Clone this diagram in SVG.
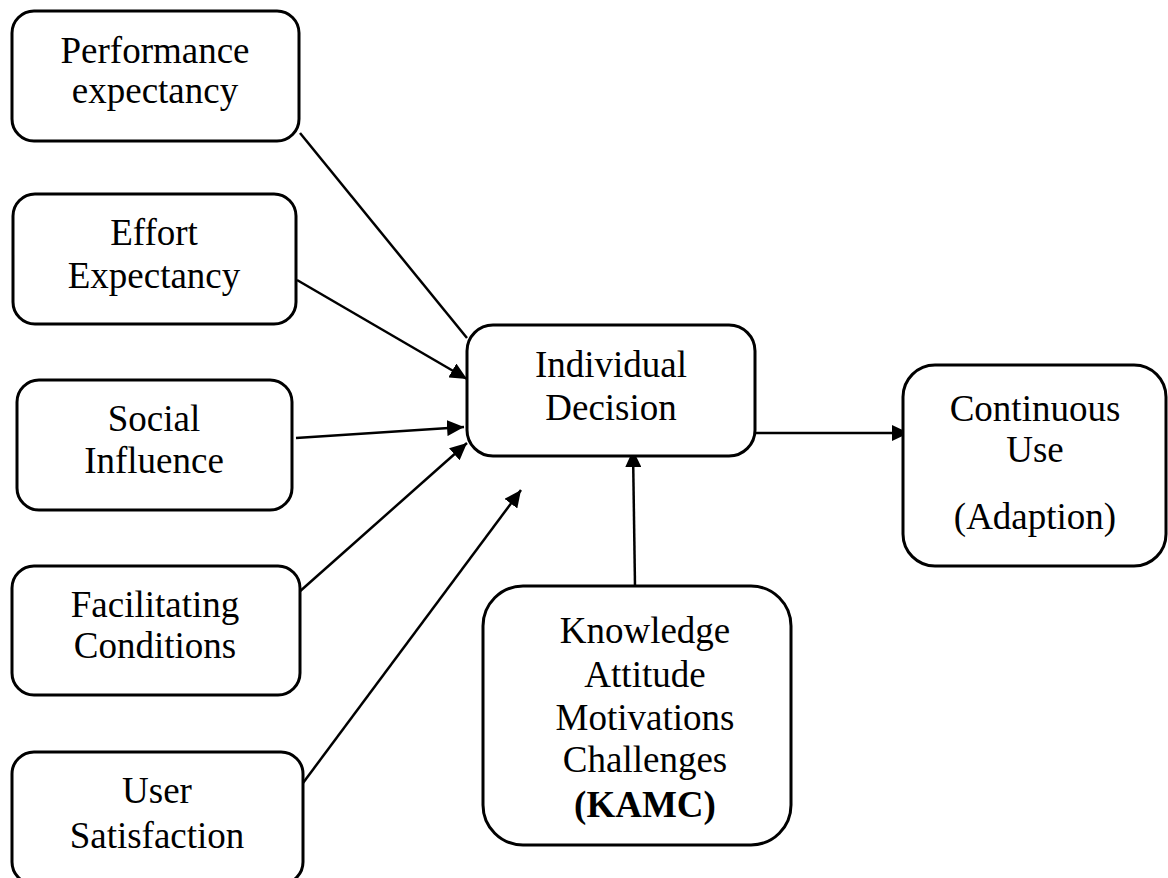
<svg xmlns="http://www.w3.org/2000/svg" width="1168" height="878" viewBox="0 0 1168 878">
  <style>
    .box { fill: #ffffff; stroke: #000000; stroke-width: 3; }
    .lbl { font-family: "Liberation Serif", "Times New Roman", serif; font-size: 37px; fill: #000000; text-anchor: middle; }
    .edge { stroke: #000000; stroke-width: 2.5; fill: none; }
    .arrow { marker-end: url(#head); }
  </style>
  <defs>
    <marker id="head" markerUnits="userSpaceOnUse" markerWidth="18" markerHeight="16" refX="17" refY="8" orient="auto">
      <path d="M0,0 L17,8 L0,16 z" fill="#000000"/>
    </marker>
  </defs>
  <rect width="1168" height="878" fill="#ffffff"/>

  <g id="connectors">
    <line class="edge" x1="300" y1="133" x2="467" y2="338"/>
    <line class="edge arrow" x1="297" y1="280" x2="467" y2="379"/>
    <line class="edge arrow" x1="296" y1="438" x2="464" y2="427"/>
    <line class="edge arrow" x1="298" y1="593" x2="467" y2="443"/>
    <line class="edge arrow" x1="303" y1="783" x2="521" y2="490"/>
    <line class="edge arrow" x1="635" y1="586" x2="633" y2="450"/>
    <line class="edge arrow" x1="755" y1="433" x2="909" y2="433"/>
  </g>

  <g id="performance-expectancy">
    <rect class="box" x="12" y="11" width="287" height="130" rx="22" ry="22"/>
    <text class="lbl" x="155" y="63">Performance</text>
    <text class="lbl" x="155" y="103">expectancy</text>
  </g>

  <g id="effort-expectancy">
    <rect class="box" x="13" y="194" width="283" height="130" rx="22" ry="22"/>
    <text class="lbl" x="154" y="245">Effort</text>
    <text class="lbl" x="154" y="288">Expectancy</text>
  </g>

  <g id="social-influence">
    <rect class="box" x="17" y="380" width="275" height="130" rx="22" ry="22"/>
    <text class="lbl" x="154" y="431">Social</text>
    <text class="lbl" x="154" y="473">Influence</text>
  </g>

  <g id="facilitating-conditions">
    <rect class="box" x="12" y="566" width="288" height="129" rx="22" ry="22"/>
    <text class="lbl" x="155" y="617">Facilitating</text>
    <text class="lbl" x="155" y="658">Conditions</text>
  </g>

  <g id="user-satisfaction">
    <rect class="box" x="12" y="752" width="291" height="132" rx="22" ry="22"/>
    <text class="lbl" x="157" y="803">User</text>
    <text class="lbl" x="157" y="848">Satisfaction</text>
  </g>

  <g id="individual-decision">
    <rect class="box" x="467" y="325" width="288" height="131" rx="26" ry="26"/>
    <text class="lbl" x="611" y="377">Individual</text>
    <text class="lbl" x="611" y="420">Decision</text>
  </g>

  <g id="continuous-use">
    <rect class="box" x="903" y="365" width="263" height="201" rx="32" ry="32"/>
    <text class="lbl" x="1035" y="421">Continuous</text>
    <text class="lbl" x="1035" y="462">Use</text>
    <text class="lbl" x="1035" y="529">(Adaption)</text>
  </g>

  <g id="kamc">
    <rect class="box" x="483" y="586" width="308" height="259" rx="40" ry="40"/>
    <text class="lbl" x="645" y="643">Knowledge</text>
    <text class="lbl" x="645" y="687">Attitude</text>
    <text class="lbl" x="645" y="730">Motivations</text>
    <text class="lbl" x="645" y="772">Challenges</text>
    <text class="lbl" x="645" y="817" font-weight="bold">(KAMC)</text>
  </g>
</svg>
